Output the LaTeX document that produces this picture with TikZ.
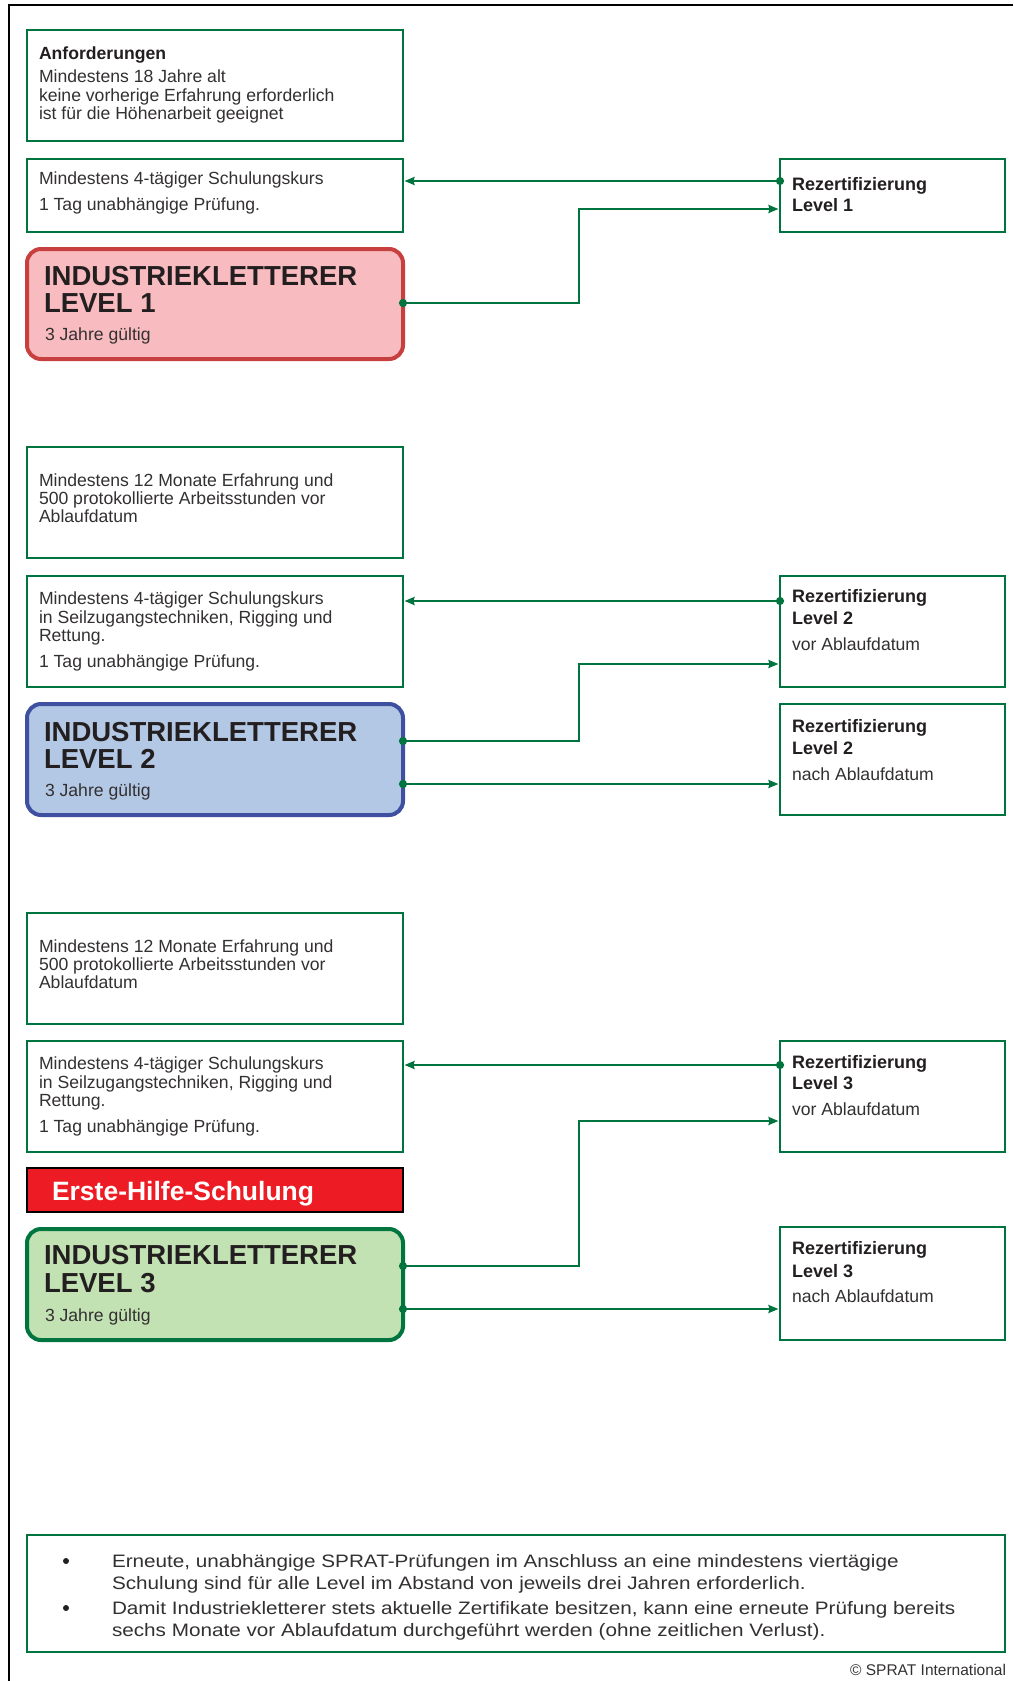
\documentclass[tikz,border=0pt]{standalone}
\usepackage{fontspec}
\setmainfont{Liberation Sans}
\newfontfamily\widefont[FakeStretch=1.15]{Liberation Sans}
\usetikzlibrary{arrows.meta}
\definecolor{sgreen}{HTML}{00743F}
\definecolor{tgray}{HTML}{231F20}
\definecolor{lgray}{HTML}{333031}
\definecolor{lonefill}{HTML}{F8BBBF}
\definecolor{loneline}{HTML}{C7403F}
\definecolor{ltwofill}{HTML}{B3C8E4}
\definecolor{ltwoline}{HTML}{4050A0}
\definecolor{lthreefill}{HTML}{C3E2B3}
\definecolor{lthreeline}{HTML}{00753F}
\definecolor{ehred}{HTML}{ED1C24}
\tikzset{
  gbox/.style={draw=sgreen, line width=2pt, fill=white, rectangle, inner sep=0pt, outer sep=0pt, anchor=north west},
  lvbox/.style={rectangle, rounded corners=14pt, line width=4pt, inner sep=0pt, outer sep=0pt, anchor=north west},
  txt/.style={anchor=base west, inner sep=0pt, outer sep=0pt, text=lgray, font=\fontsize{17.6}{19}\selectfont},
  btxt/.style={txt, text=tgray, font=\bfseries\fontsize{17.6}{19}\selectfont},
  rtxt/.style={txt, font=\fontsize{17.6}{19}\selectfont},
  rbtxt/.style={txt, text=tgray, font=\bfseries\fontsize{18}{19}\selectfont},
  ttl/.style={txt, text=tgray, font=\bfseries\fontsize{27.5}{27}\selectfont},
  bul/.style={txt, font=\widefont\fontsize{18}{20}\selectfont},
  bdot/.style={anchor=center, circle, fill=black, inner sep=0pt, minimum size=6pt},
  conn/.style={draw=sgreen, line width=2.6pt},
  dotarrow/.style={conn, {Circle[length=8pt]}-{Stealth[length=10pt,width=8pt,inset=1pt]}, shorten <=-4pt, shorten >=1.5pt},
  elbarrow/.style={conn, {Circle[length=8pt]}-{Stealth[length=10pt,width=8pt,inset=1pt]}, shorten <=-4pt, shorten >=1.5pt}
}
\begin{document}
\begin{tikzpicture}[x=1pt,y=-1pt]
\useasboundingbox (0,0) rectangle (1013,1681);
% outer frame
\draw[line width=2.5pt, black] (1013,5) -- (9,5) -- (9,1681);

% ---------------- Level 1 ----------------
\node[gbox, minimum width=376pt, minimum height=111pt] (req) at (27,30) {};
\node[gbox, minimum width=376pt, minimum height=73pt] (s1) at (27,159) {};
\node[lvbox, draw=loneline, fill=lonefill, minimum width=376pt, minimum height=110pt] (l1) at (27,249) {};
\node[gbox, minimum width=225pt, minimum height=73pt] (rz1) at (780,159) {};

\node[btxt] (reqh) at (39,59) {Anforderungen};
\node[txt] (req1) at (39,82) {Mindestens 18 Jahre alt};
\node[txt] (req2) at (39,101) {keine vorherige Erfahrung erforderlich};
\node[txt] (req3) at (39,119) {ist für die Höhenarbeit geeignet};
\node[txt] (s1a) at (39,184) {Mindestens 4-tägiger Schulungskurs};
\node[txt] (s1b) at (39,210) {1 Tag unabhängige Prüfung.};
\node[ttl] (l1a) at (44,285) {INDUSTRIEKLETTERER};
\node[ttl] (l1b) at (44,312) {LEVEL 1};
\node[txt] (l1c) at (45,340) {3 Jahre gültig};
\node[rbtxt] (r1a) at (792,190) {Rezertifizierung};
\node[rbtxt] (r1b) at (792,211) {Level 1};

\draw[dotarrow] ([yshift=-22pt]rz1.north west) -- ([yshift=-22pt]s1.north east);
\draw[elbarrow] ([yshift=-54pt]l1.north east) -- ++(176,0) |- ([yshift=-50pt]rz1.north west);

% ---------------- Level 2 ----------------
\node[gbox, minimum width=376pt, minimum height=111pt] (m2) at (27,447) {};
\node[gbox, minimum width=376pt, minimum height=111pt] (s2) at (27,576) {};
\node[lvbox, draw=ltwoline, fill=ltwofill, minimum width=376pt, minimum height=111pt] (l2) at (27,704) {};
\node[gbox, minimum width=225pt, minimum height=111pt] (rz2) at (780,576) {};
\node[gbox, minimum width=225pt, minimum height=111pt] (rn2) at (780,704) {};

\node[txt] (m2a) at (39,486) {Mindestens 12 Monate Erfahrung und};
\node[txt] (m2b) at (39,504) {500 protokollierte Arbeitsstunden vor};
\node[txt] (m2c) at (39,522) {Ablaufdatum};
\node[txt] (s2a) at (39,604) {Mindestens 4-tägiger Schulungskurs};
\node[txt] (s2b) at (39,623) {in Seilzugangstechniken, Rigging und};
\node[txt] (s2c) at (39,641) {Rettung.};
\node[txt] (s2d) at (39,667) {1 Tag unabhängige Prüfung.};
\node[ttl] (l2a) at (44,741) {INDUSTRIEKLETTERER};
\node[ttl] (l2b) at (44,768) {LEVEL 2};
\node[txt] (l2c) at (45,796) {3 Jahre gültig};
\node[rbtxt] (r2a) at (792,602) {Rezertifizierung};
\node[rbtxt] (r2b) at (792,624) {Level 2};
\node[rtxt] (r2c) at (792,650) {vor Ablaufdatum};
\node[rbtxt] (n2a) at (792,732) {Rezertifizierung};
\node[rbtxt] (n2b) at (792,754) {Level 2};
\node[rtxt] (n2c) at (792,780) {nach Ablaufdatum};

\draw[dotarrow] ([yshift=-25pt]rz2.north west) -- ([yshift=-25pt]s2.north east);
\draw[elbarrow] ([yshift=-37pt]l2.north east) -- ++(176,0) |- ([yshift=-88pt]rz2.north west);
\draw[elbarrow] ([yshift=-80pt]l2.north east) -- ([yshift=-80pt]rn2.north west);

% ---------------- Level 3 ----------------
\node[gbox, minimum width=376pt, minimum height=111pt] (m3) at (27,913) {};
\node[gbox, minimum width=376pt, minimum height=111pt] (s3) at (27,1041) {};
\node[rectangle, draw=black, line width=1.5pt, fill=ehred, inner sep=0pt, outer sep=0pt, anchor=north west, minimum width=376pt, minimum height=44pt] (eh) at (27,1168) {};
\node[lvbox, draw=lthreeline, fill=lthreefill, minimum width=376pt, minimum height=111pt] (l3) at (27,1229) {};
\node[gbox, minimum width=225pt, minimum height=111pt] (rz3) at (780,1041) {};
\node[gbox, minimum width=225pt, minimum height=113pt] (rn3) at (780,1227) {};

\node[txt] (m3a) at (39,952) {Mindestens 12 Monate Erfahrung und};
\node[txt] (m3b) at (39,970) {500 protokollierte Arbeitsstunden vor};
\node[txt] (m3c) at (39,988) {Ablaufdatum};
\node[txt] (s3a) at (39,1069) {Mindestens 4-tägiger Schulungskurs};
\node[txt] (s3b) at (39,1088) {in Seilzugangstechniken, Rigging und};
\node[txt] (s3c) at (39,1106) {Rettung.};
\node[txt] (s3d) at (39,1132) {1 Tag unabhängige Prüfung.};
\node[txt, text=white, font=\bfseries\fontsize{26.5}{27}\selectfont] (eht) at (52,1200) {Erste-Hilfe-Schulung};
\node[ttl] (l3a) at (44,1264) {INDUSTRIEKLETTERER};
\node[ttl] (l3b) at (44,1292) {LEVEL 3};
\node[txt] (l3c) at (45,1321) {3 Jahre gültig};
\node[rbtxt] (r3a) at (792,1068) {Rezertifizierung};
\node[rbtxt] (r3b) at (792,1089) {Level 3};
\node[rtxt] (r3c) at (792,1115) {vor Ablaufdatum};
\node[rbtxt] (n3a) at (792,1254) {Rezertifizierung};
\node[rbtxt] (n3b) at (792,1277) {Level 3};
\node[rtxt] (n3c) at (792,1302) {nach Ablaufdatum};

\draw[dotarrow] ([yshift=-24pt]rz3.north west) -- ([yshift=-24pt]s3.north east);
\draw[elbarrow] ([yshift=-37pt]l3.north east) -- ++(176,0) |- ([yshift=-80pt]rz3.north west);
\draw[elbarrow] ([yshift=-80pt]l3.north east) -- ([yshift=-82pt]rn3.north west);

% ---------------- Bottom notes ----------------
\node[gbox, minimum width=978pt, minimum height=117pt] (bot) at (27,1535) {};
\node[bdot, fill=tgray] (b1) at (66,1561) {};
\node[bul] (b1a) at (112,1567) {Erneute, unabhängige SPRAT-Prüfungen im Anschluss an eine mindestens viertägige};
\node[bul] (b1b) at (112,1589) {Schulung sind für alle Level im Abstand von jeweils drei Jahren erforderlich.};
\node[bdot, fill=tgray] (b2) at (66,1608) {};
\node[bul] (b2a) at (112,1614) {Damit Industriekletterer stets aktuelle Zertifikate besitzen, kann eine erneute Prüfung bereits};
\node[bul] (b2b) at (112,1636) {sechs Monate vor Ablaufdatum durchgeführt werden (ohne zeitlichen Verlust).};
\node[txt, anchor=base east, font=\fontsize{15.5}{17}\selectfont] (copy) at (1006,1675) {© SPRAT International};
\end{tikzpicture}
\end{document}
